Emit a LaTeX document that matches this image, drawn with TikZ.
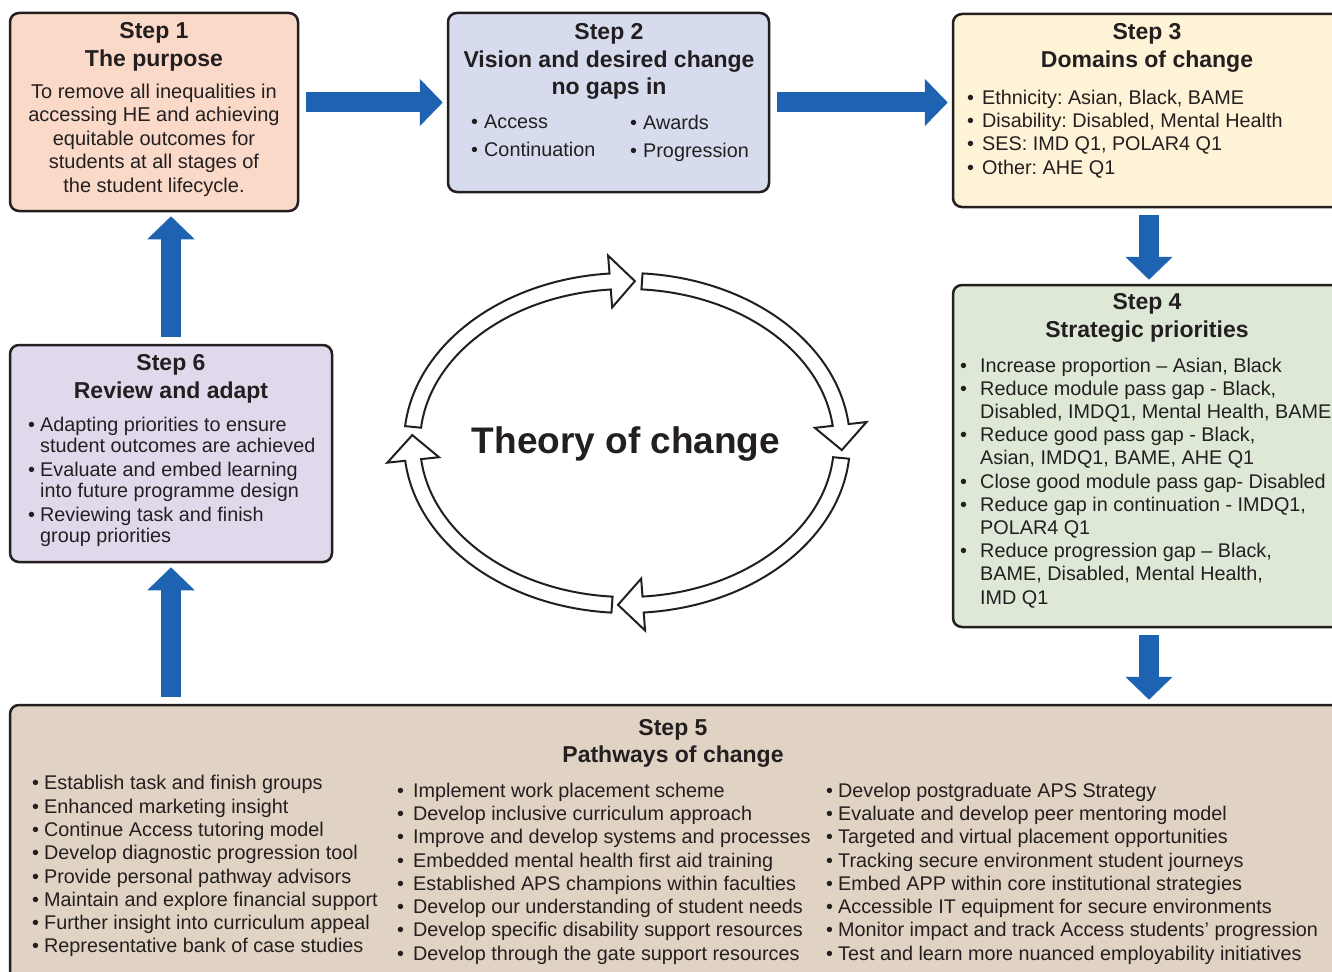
\documentclass[tikz,border=0pt]{standalone}
\usepackage{fontspec}
\setmainfont{Liberation Sans}
\usetikzlibrary{arrows.meta}
\frenchspacing

\definecolor{ink}{RGB}{35,31,32}
\definecolor{flowblue}{RGB}{30,99,178}
\definecolor{peach}{RGB}{250,217,200}
\definecolor{lavblue}{RGB}{214,220,238}
\definecolor{cream}{RGB}{254,243,214}
\definecolor{sage}{RGB}{221,233,214}
\definecolor{lilac}{RGB}{226,216,236}
\definecolor{sand}{RGB}{224,211,195}

\newcommand{\bul}[1][12pt]{\makebox[#1][l]{•}}
\newcommand{\cont}[1][12pt]{\hspace*{#1}}

\begin{document}
\begin{tikzpicture}[x=1pt,y=-1pt,
  box/.style={draw=ink,line width=2.5pt,rounded corners=9pt,inner sep=0pt},
  ttl/.style={text=ink,font=\fontsize{23}{27.5}\selectfont\bfseries,align=center,anchor=north,inner sep=0pt},
  txt/.style={text=ink,font=\fontsize{19.8}{23.3}\selectfont,align=left,anchor=north west,inner sep=0pt},
  flow/.style={draw=flowblue,line width=20pt,-{Triangle[length=23pt,width=46pt]},shorten <=7pt,shorten >=4pt},
  ring/.style={draw=ink,line width=2pt,fill=white,line join=miter}]

  \useasboundingbox[fill=white] (0,0) rectangle (1332,971);

  % the six steps
  \node[box,fill=peach,  minimum width=288pt, minimum height=198pt] (S1) at (154,112)    {};
  \node[box,fill=lavblue,minimum width=321pt, minimum height=179pt] (S2) at (608.5,102.5) {};
  \node[box,fill=cream,  minimum width=392pt, minimum height=193pt] (S3) at (1149,110.5)  {};
  \node[box,fill=sage,   minimum width=392pt, minimum height=342pt] (S4) at (1149,456)    {};
  \node[box,fill=sand,   minimum width=1335pt,minimum height=285pt] (S5) at (677.5,847.5) {};
  \node[box,fill=lilac,  minimum width=322pt, minimum height=217pt] (S6) at (171,453.5)   {};

  \node[ttl] (S1t) at (154,22.5) {Step 1\\The purpose};
  \node[txt,anchor=north,align=center,font=\fontsize{20}{23.5}\selectfont] (S1b) at (154,83.5)
    {To remove all inequalities in\\accessing HE and achieving\\equitable outcomes for\\students at all stages of\\the student lifecycle.};

  \node[ttl] (S2t) at (609,23.5) {Step 2\\Vision and desired change\\no gaps in};
  \node[txt,font=\fontsize{19.8}{28}\selectfont] (S2a) at (471,114.6) {\bul[13pt]Access\\\bul[13pt]Continuation};
  \node[txt,font=\fontsize{19.8}{28}\selectfont] (S2b) at (630,114.6) {\bul[13pt]Awards\\\bul[13pt]Progression};

  \node[ttl] (S3t) at (1147,23.5) {Step 3\\Domains of change};
  \node[txt] (S3b) at (967,89.6)
    {\bul[15pt]Ethnicity: Asian, Black, BAME\\
     \bul[15pt]Disability: Disabled, Mental Health\\
     \bul[15pt]SES: IMD Q1, POLAR4 Q1\\
     \bul[15pt]Other: AHE Q1};

  \node[ttl] (S4t) at (1147,293.5) {Step 4\\Strategic priorities};
  \node[txt,font=\fontsize{19.8}{23.2}\selectfont] (S4b) at (960,357.6)
    {\bul[20pt]Increase proportion – Asian, Black\\
     \bul[20pt]Reduce module pass gap - Black,\\
     \cont[20pt]Disabled, IMDQ1, Mental Health, BAME\\
     \bul[20pt]Reduce good pass gap - Black,\\
     \cont[20pt]Asian, IMDQ1, BAME, AHE Q1\\
     \bul[20pt]Close good module pass gap- Disabled\\
     \bul[20pt]Reduce gap in continuation - IMDQ1,\\
     \cont[20pt]POLAR4 Q1\\
     \bul[20pt]Reduce progression gap – Black,\\
     \cont[20pt]BAME, Disabled, Mental Health,\\
     \cont[20pt]IMD Q1};

  \node[ttl] (S6t) at (171,354.5) {Step 6\\Review and adapt};
  \node[txt,font=\fontsize{19.8}{21}\selectfont] (S6b) at (28,416.6)
    {\bul Adapting priorities to ensure\\
     \cont student outcomes are achieved\\[3pt]
     \bul Evaluate and embed learning\\
     \cont into future programme design\\[3pt]
     \bul Reviewing task and finish\\
     \cont group priorities};

  \node[ttl] (S5t) at (673,719) {Step 5\\Pathways of change};
  \node[txt] (S5a) at (32,775.3)
    {\bul Establish task and finish groups\\
     \bul Enhanced marketing insight\\
     \bul Continue Access tutoring model\\
     \bul Develop diagnostic progression tool\\
     \bul Provide personal pathway advisors\\
     \bul Maintain and explore financial support\\
     \bul Further insight into curriculum appeal\\
     \bul Representative bank of case studies};
  \node[txt] (S5b) at (397,782.6)
    {\bul[16pt]Implement work placement scheme\\
     \bul[16pt]Develop inclusive curriculum approach\\
     \bul[16pt]Improve and develop systems and processes\\
     \bul[16pt]Embedded mental health first aid training\\
     \bul[16pt]Established APS champions within faculties\\
     \bul[16pt]Develop our understanding of student needs\\
     \bul[16pt]Develop specific disability support resources\\
     \bul[16pt]Develop through the gate support resources};
  \node[txt] (S5c) at (826,782.6)
    {\bul Develop postgraduate APS Strategy\\
     \bul Evaluate and develop peer mentoring model\\
     \bul Targeted and virtual placement opportunities\\
     \bul Tracking secure environment student journeys\\
     \bul Embed APP within core institutional strategies\\
     \bul Accessible IT equipment for secure environments\\
     \bul Monitor impact and track Access students’ progression\\
     \bul Test and learn more nuanced employability initiatives};

  % blue flow between steps
  \draw[flow] (S1.east |- S2) -- (S2);
  \draw[flow] (S2) -- (S2 -| S3.west);
  \draw[flow] (S3) -- (S4);
  \draw[flow] (S4) -- (S4 |- S5.north);
  \draw[flow] (S6 |- S5.north) -- (S6);
  \draw[flow] (S6) -- (S6 |- S1.south);

  % the cycle in the middle
  \coordinate (O) at (627,443);
  \foreach \s/\b/\t in {185.7/265.5/272.1, 274/353.6/362.5, 5.3/85.7/92.4, 94/174/182.8}
    \draw[ring] ([shift={(O)}]\s:223 and 170) arc[start angle=\s,end angle=\b,x radius=223,y radius=170]
      -- ([shift={(O)}]\b:241 and 188) -- ([shift={(O)}]\t:215 and 162) -- ([shift={(O)}]\b:189 and 136)
      -- ([shift={(O)}]\b:207 and 154) arc[start angle=\b,end angle=\s,x radius=207,y radius=154] -- cycle;
  \node[text=ink,font=\fontsize{37}{40}\selectfont\bfseries,anchor=base] (toc) at (626,453) {Theory of change};
\end{tikzpicture}
\end{document}
